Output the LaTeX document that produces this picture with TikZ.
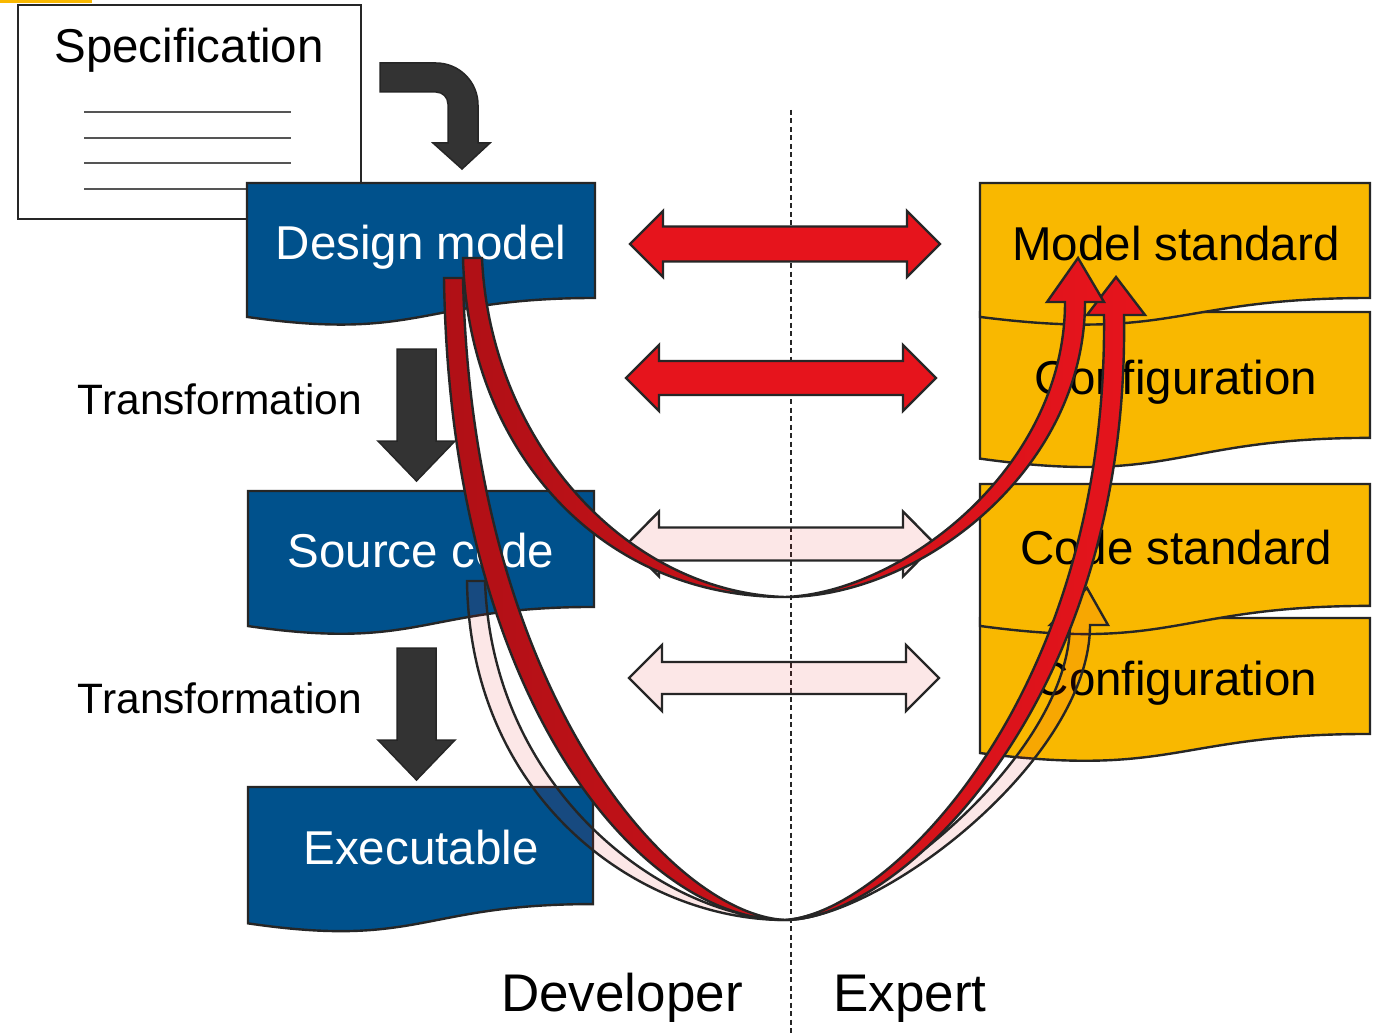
\documentclass[tikz,border=0pt]{standalone}
\usepackage{fontspec}
\setmainfont{Liberation Sans}

\definecolor{dblue}{RGB}{0,81,140}
\definecolor{gold}{RGB}{249,184,0}
\definecolor{redb}{RGB}{230,20,28}
\definecolor{redd}{RGB}{176,16,22}
\definecolor{ink}{RGB}{38,38,38}
\definecolor{arrowgrey}{RGB}{51,51,51}
\definecolor{rulegrey}{RGB}{85,85,85}

\tikzset{
  outlined/.style={draw=ink, line width=2.4pt, line join=miter, miter limit=4},
  bluedoc/.style={outlined, fill=dblue},
  golddoc/.style={outlined, fill=gold},
  whitebox/.style={outlined, fill=white},
  bluetext/.style={text=white, font=\fontsize{47.5}{50}\selectfont, inner sep=0pt, anchor=base},
  darktext/.style={text=black, font=\fontsize{47.5}{50}\selectfont, inner sep=0pt, anchor=base},
  sidelabel/.style={text=black, font=\fontsize{42.5}{45}\selectfont, inner sep=0pt, anchor=base},
  rolelabel/.style={text=black, font=\fontsize{53}{56}\selectfont, inner sep=0pt, anchor=base},
  greyarrow/.style={draw=ink, line width=1.5pt, line join=miter, fill=arrowgrey},
  redarrow/.style={outlined, fill=redb},
  palearrow/.style={outlined, fill=redb, fill opacity=0.1},
  redband/.style={outlined, left color=redd, right color=redb},
  divider/.style={draw=ink, line width=1.2pt, dash pattern=on 5pt off 3.5pt},
}

% document shape: style, left x, right x, top y, height
\newcommand{\wavebox}[5]{%
  \path[#1] (#2,#4) -- (#3,#4) -- (#3,{#4+0.8019*#5})
    .. controls ({(#2+#3)/2},{#4+0.8019*#5}) and ({(#2+#3)/2},{#4+1.1075*#5})
    .. (#2,{#4+0.9339*#5}) -- cycle;}

% horizontal double arrow: style, left tip, right tip, centre y, head length, head half-height, shaft half-height
\newcommand{\dblarr}[7]{%
  \path[#1] (#2,#4) -- ({#2+#5},{#4-#6}) -- ({#2+#5},{#4-#7}) -- ({#3-#5},{#4-#7})
    -- ({#3-#5},{#4-#6}) -- (#3,#4) -- ({#3-#5},{#4+#6}) -- ({#3-#5},{#4+#7})
    -- ({#2+#5},{#4+#7}) -- ({#2+#5},{#4+#6}) -- cycle;}

\begin{document}
\begin{tikzpicture}[x=1pt, y=-1pt]
\useasboundingbox (0,0) rectangle (1381,1035);
\fill[white] (0,0) rectangle (1381,1035);
\fill[gold] (0,0) rectangle (92,3);

% specification sheet
\path[whitebox] (18,5) rectangle (361,219);
\foreach \yy in {112,138,163,189}
  \draw[rulegrey, line width=1.6pt] (84,\yy) -- (291,\yy);
\node[darktext] (spec) at (189,63) {Specification};

% developer side artefacts
\wavebox{bluedoc}{247}{595}{183}{143.4}
\wavebox{bluedoc}{248}{594}{491}{144.6}
\wavebox{bluedoc}{248}{593}{787}{146}
\node[bluetext] (design) at (421,259) {Design model};
\node[bluetext] (source) at (421,567) {Source code};
\node[bluetext] (exe) at (421,864) {Executable};

% expert side standards
\wavebox{golddoc}{980}{1370}{312}{157}
\wavebox{golddoc}{980}{1370}{183}{143.4}
\wavebox{golddoc}{980}{1370}{618}{144.6}
\wavebox{golddoc}{980}{1370}{484}{152}
\node[darktext] (mstd) at (1176,260) {Model standard};
\node[darktext] (conf1) at (1176,394) {Configuration};
\node[darktext] (cstd) at (1176,564) {Code standard};
\node[darktext] (conf2) at (1176,695) {Configuration};

% process arrows
\path[greyarrow] (380,63) -- (436,63) arc[start angle=-90, end angle=0, radius=42]
  -- (478,143) -- (490,143) -- (462,169) -- (433,143) -- (448,143) -- (448,104)
  arc[start angle=0, end angle=-90, radius=12] -- (380,92) -- cycle;
\path[greyarrow] (397,349) -- (436,349) -- (436,441) -- (455,441) -- (416.5,481)
  -- (378,441) -- (397,441) -- cycle;
\path[greyarrow] (397,648) -- (436,648) -- (436,740) -- (455,740) -- (416.5,780)
  -- (378,740) -- (397,740) -- cycle;
\node[sidelabel] (tf1) at (220,414) {Transformation};
\node[sidelabel] (tf2) at (220,713) {Transformation};

% role divider
\draw[divider] (791,110) -- (791,1035);
\node[rolelabel] (dev) at (622,1011) {Developer};
\node[rolelabel] (expert) at (910,1011) {Expert};

% exchange arrows
\dblarr{redarrow}{630}{940}{244}{33}{33}{17.5}
\dblarr{redarrow}{626}{936}{378}{33}{33}{17}
\dblarr{palearrow}{627}{935}{544}{32}{32.5}{16.5}
\dblarr{palearrow}{629}{939}{678}{33}{33}{16}

% source code -> code standard
\path[palearrow] (467,581) .. controls (470,800) and (640,920) .. (785,920)
  .. controls (880,920) and (1090,760) .. (1090,625)
  -- (1108,625) -- (1087,588) -- (1050,625) -- (1070,625)
  .. controls (1068,760) and (865,916) .. (785,920)
  .. controls (662,916) and (492,790) .. (485,581) -- cycle;

% design model -> model standard (deep loop)
\path[redband] (444,278) .. controls (450,700) and (640,920) .. (785,920)
  .. controls (900,920) and (1130,700) .. (1124,315)
  -- (1145,315) -- (1116,277) -- (1087,315) -- (1104,315)
  .. controls (1108,700) and (885,914) .. (785,920)
  .. controls (670,914) and (472,690) .. (463,278) -- cycle;

% design model -> model standard (shallow loop)
\path[redband] (463,258) .. controls (468,450) and (600,597) .. (785,597)
  .. controls (920,597) and (1085,470) .. (1085,302)
  -- (1104,302) -- (1078,258) -- (1047,302) -- (1065,302)
  .. controls (1065,470) and (900,593) .. (785,597)
  .. controls (625,592) and (490,440) .. (482,258) -- cycle;
\end{tikzpicture}
\end{document}
